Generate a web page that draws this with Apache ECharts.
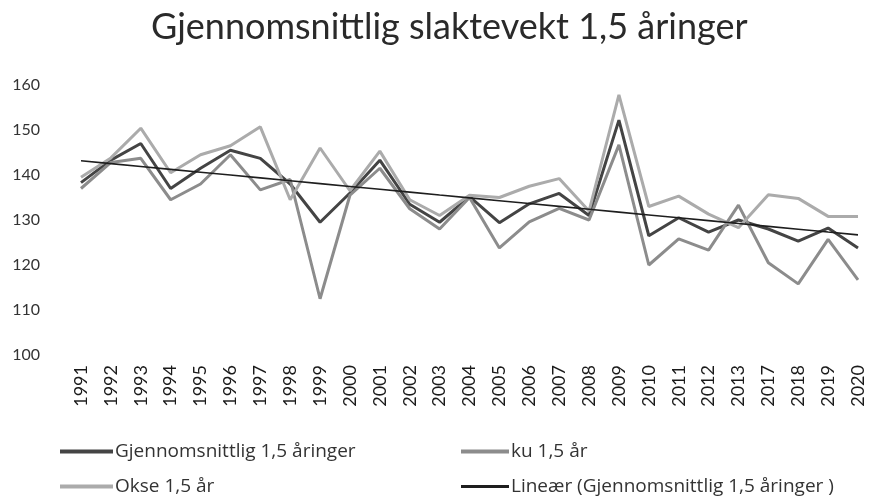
<!DOCTYPE html>
<html>
<head>
<meta charset="utf-8">
<script src="https://cdn.jsdelivr.net/npm/echarts@6/dist/echarts.min.js"></script>
<style>
html,body{margin:0;padding:0;background:#fff;}
#chart{width:870px;height:499px;}
</style>
</head>
<body>
<div id="chart"></div>
<script>
var years = ['1991','1992','1993','1994','1995','1996','1997','1998','1999','2000','2001','2002','2003','2004','2005','2006','2007','2008','2009','2010','2011','2012','2013','2017','2018','2019','2020'];
var gjennomsnitt = [138.3,143.3,147,137,141.5,145.5,143.7,138,129.5,136,143.3,133.5,129.5,135.2,129.4,133.6,135.9,131,152.2,126.5,130.5,127.3,130,128,125.3,128.2,123.8];
var ku = [137,142.8,143.7,134.5,138,144.5,136.7,139,112.5,135.5,141.5,132.5,128,135,123.8,129.6,132.6,130,146.7,120,125.8,123.3,133.3,120.5,115.8,125.7,116.7];
var okse = [139.5,143.8,150.4,140.5,144.5,146.5,150.7,134.5,146,136.5,145.3,134.5,131,135.5,135,137.5,139.2,132,157.8,133,135.3,131.3,128.3,135.6,134.8,130.8,130.8];
var yTicks = [100,110,120,130,140,150,160];

var names = ['Gjennomsnittlig 1,5 åringer','ku 1,5 år','Okse 1,5 år','Lineær (Gjennomsnittlig 1,5 åringer )'];
var colors = ['#444444','#8c8c8c','#ababab','#1e1e1e'];

// Linear trend (least squares) of the average series, as in the spreadsheet
function linearTrend(vals){
  var n = vals.length, sx=0, sy=0, sxx=0, sxy=0;
  for (var i=0;i<n;i++){ var x=i+1; sx+=x; sy+=vals[i]; sxx+=x*x; sxy+=x*vals[i]; }
  var b = (n*sxy - sx*sy)/(n*sxx - sx*sx);
  var a = (sy - b*sx)/n;
  return vals.map(function(_,i){ return +(a + b*(i+1)).toFixed(3); });
}
var trend = linearTrend(gjennomsnitt);

var font = 'Lato, "Open Sans", sans-serif';
var legFont = '"Open Sans", Lato, sans-serif';
function leg(idx, left, top, w){
  return {
    data:[{name:names[idx], icon:'rect', itemStyle:{color:colors[idx]}}],
    left:left, top:top, itemWidth:w, itemHeight:idx===3?3:4, itemGap:0,
    textStyle:{fontFamily:legFont, fontSize:19, color:'#333', padding:[0,0,0,-3]}
  };
}
var chart = echarts.init(document.getElementById('chart'));
chart.setOption({
  animation:false,
  backgroundColor:'#fff',
  title:{
    text:'Gjennomsnittlig slaktevekt 1,5 åringer',
    left:146, top:4,
    textStyle:{fontFamily:font, fontSize:36, fontWeight:'normal', color:'#2a2a2a'}
  },
  legend:[ leg(0,55,437,53), leg(1,456,437,48), leg(2,55,472,53), leg(3,456,472,48) ],
  grid:{left:81, right:12, top:85, bottom:144, containLabel:false},
  xAxis:{
    type:'category', data:years, boundaryGap:false,
    axisLine:{show:false}, axisTick:{show:false},
    axisLabel:{rotate:90, margin:10, fontFamily:font, fontSize:18, color:'#1a1a1a', interval:0}
  },
  yAxis:{
    type:'value', min:yTicks[0], max:yTicks[yTicks.length-1], interval:10,
    axisLine:{show:false}, axisTick:{show:false}, splitLine:{show:false},
    axisLabel:{margin:41, fontFamily:font, fontSize:16, color:'#333'}
  },
  series:[
    {name:names[0], type:'line', data:gjennomsnitt, symbol:'none',
     lineStyle:{color:colors[0], width:3}, itemStyle:{color:colors[0]}},
    {name:names[1], type:'line', data:ku, symbol:'none',
     lineStyle:{color:colors[1], width:3}, itemStyle:{color:colors[1]}},
    {name:names[2], type:'line', data:okse, symbol:'none',
     lineStyle:{color:colors[2], width:3}, itemStyle:{color:colors[2]}},
    {name:names[3], type:'line', data:trend, symbol:'none',
     lineStyle:{color:colors[3], width:1.6}, itemStyle:{color:colors[3]}}
  ]
});
</script>
</body>
</html>
